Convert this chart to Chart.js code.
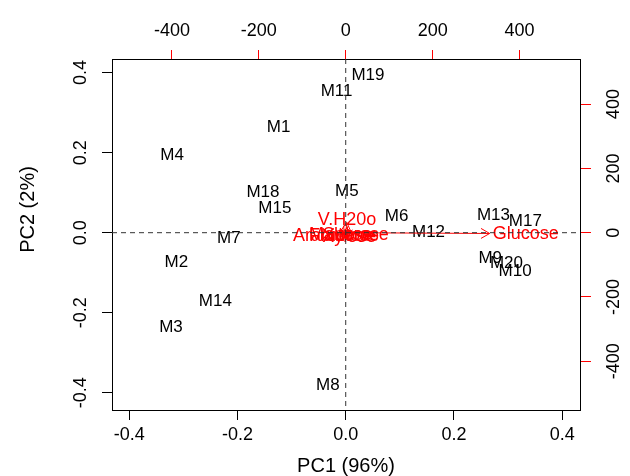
<!DOCTYPE html>
<html>
<head>
<meta charset="utf-8">
<script src="https://cdn.jsdelivr.net/npm/chart.js@4.4.0/dist/chart.umd.min.js"></script>
<style>
  html, body { margin: 0; padding: 0; background: #fff; }
</style>
</head>
<body>
<canvas id="biplot" width="630" height="476"></canvas>
<script>
// sample scores (PC1, PC2)
const sampleNames = ['M1', 'M2', 'M3', 'M4', 'M5', 'M6', 'M7', 'M8', 'M9', 'M10',
                     'M11', 'M12', 'M13', 'M14', 'M15', 'M17', 'M18', 'M19', 'M20'];
const pc1 = [-0.124, -0.313, -0.323, -0.321, 0.002, 0.094, -0.216, -0.033, 0.267, 0.313,
             -0.017, 0.153, 0.273, -0.241, -0.131, 0.332, -0.153, 0.041, 0.297];
const pc2 = [0.264, -0.073, -0.236, 0.194, 0.104, 0.042, -0.013, -0.381, -0.063, -0.096,
             0.354, 0.002, 0.044, -0.171, 0.062, 0.028, 0.102, 0.393, -0.076];

// variable loadings (top / right axes)
const varNames = ['Glucose', 'V.H20o', 'Arabinose', 'Sucrose', 'Fructose', 'Maltose', 'Xylose'];
const load1 = [414, 3, -28, 23, -4, -12, 8];
const load2 = [-3, 40, -9, -8, -11, -6, -14];

const scoreTicks = [-0.4, -0.2, 0, 0.2, 0.4];
const loadTicks = [-400, -200, 0, 200, 400];

const xRange = [-0.432, 0.433];
const yRange = [-0.443, 0.434];
const loadScale = 1245;   // ratio between loading axes and score axes

const FONT = 'Liberation Sans, Arial, sans-serif';

const biplotLabels = {
  id: 'biplotLabels',
  afterDatasetsDraw(chart) {
    const ctx = chart.ctx;
    const area = chart.chartArea;
    const s = chart.scales;
    ctx.save();
    ctx.beginPath();
    ctx.rect(area.left, area.top, area.right - area.left, area.bottom - area.top);
    ctx.clip();

    // sample names
    ctx.font = '17px ' + FONT;
    ctx.textAlign = 'center';
    ctx.textBaseline = 'middle';
    ctx.fillStyle = '#000';
    chart.getDatasetMeta(0).data.forEach((pt, i) => {
      ctx.fillText(sampleNames[i], pt.x, pt.y);
    });

    // arrows at 0.8 of the loading
    const ox = s.x2.getPixelForValue(0);
    const oy = s.y2.getPixelForValue(0);
    ctx.strokeStyle = 'red';
    ctx.lineWidth = 1;
    load1.forEach((v, i) => {
      const tx = s.x2.getPixelForValue(v * 0.8);
      const ty = s.y2.getPixelForValue(load2[i] * 0.8);
      ctx.beginPath();
      ctx.moveTo(ox, oy);
      ctx.lineTo(tx, ty);
      const a = Math.atan2(ty - oy, tx - ox);
      const len = 10;
      ctx.moveTo(tx - len * Math.cos(a - Math.PI / 6), ty - len * Math.sin(a - Math.PI / 6));
      ctx.lineTo(tx, ty);
      ctx.lineTo(tx - len * Math.cos(a + Math.PI / 6), ty - len * Math.sin(a + Math.PI / 6));
      ctx.stroke();
    });

    // variable names
    ctx.font = '18px ' + FONT;
    ctx.fillStyle = 'red';
    chart.getDatasetMeta(1).data.forEach((pt, i) => {
      ctx.fillText(varNames[i], pt.x, pt.y);
    });

    // dashed lines through the origin
    const x0 = s.x.getPixelForValue(0);
    const y0 = s.y.getPixelForValue(0);
    ctx.strokeStyle = '#333';
    ctx.setLineDash([5, 4]);
    ctx.beginPath();
    ctx.moveTo(x0, area.top);
    ctx.lineTo(x0, area.bottom);
    ctx.moveTo(area.left, y0);
    ctx.lineTo(area.right, y0);
    ctx.stroke();
    ctx.restore();
  }
};

const tickFont = { family: FONT, size: 18 };
const fixedTicks = list => axis => { axis.ticks = list.map(v => ({ value: v })); };

new Chart('biplot', {
  type: 'scatter',
  data: {
    datasets: [
      {
        data: pc1.map((v, i) => ({ x: v, y: pc2[i] })),
        xAxisID: 'x', yAxisID: 'y', pointRadius: 0
      },
      {
        data: load1.map((v, i) => ({ x: v, y: load2[i] })),
        xAxisID: 'x2', yAxisID: 'y2', pointRadius: 0
      }
    ]
  },
  options: {
    responsive: false,
    animation: false,
    devicePixelRatio: 1,
    layout: { padding: 0 },
    plugins: { legend: { display: false }, tooltip: { enabled: false } },
    scales: {
      x: {
        type: 'linear', position: 'bottom', min: xRange[0], max: xRange[1],
        afterBuildTicks: fixedTicks(scoreTicks),
        afterFit: sc => { sc.height = 66; },
        grid: { drawOnChartArea: false, tickLength: 10, color: '#000' },
        border: { color: '#000' },
        ticks: { font: tickFont, color: '#000', padding: 4, maxRotation: 0,
                 callback: v => v.toFixed(1) },
        title: { display: true, text: 'PC1 (96%)', color: '#000',
                 font: { family: FONT, size: 20, lineHeight: 1 }, padding: 0 }
      },
      y: {
        type: 'linear', position: 'left', min: yRange[0], max: yRange[1],
        afterBuildTicks: fixedTicks(scoreTicks),
        afterFit: sc => { sc.width = 112; },
        grid: { drawOnChartArea: false, tickLength: 10, color: '#000' },
        border: { color: '#000' },
        ticks: { font: tickFont, color: '#000', padding: 5, minRotation: 90, maxRotation: 90,
                 crossAlign: 'center', callback: v => v.toFixed(1) },
        title: { display: true, text: '         PC2 (2%)', color: '#000',
                 font: { family: FONT, size: 20, lineHeight: 1 }, padding: { top: 18 } }
      },
      x2: {
        type: 'linear', position: 'top', min: xRange[0] * loadScale, max: xRange[1] * loadScale,
        afterBuildTicks: fixedTicks(loadTicks),
        afterFit: sc => { sc.height = 59; },
        grid: { drawOnChartArea: false, tickLength: 9, color: 'red' },
        border: { color: '#000' },
        ticks: { font: tickFont, color: '#000', padding: 8, maxRotation: 0 }
      },
      y2: {
        type: 'linear', position: 'right', min: yRange[0] * loadScale, max: yRange[1] * loadScale,
        afterBuildTicks: fixedTicks(loadTicks),
        afterFit: sc => { sc.width = 50; },
        grid: { drawOnChartArea: false, tickLength: 11, color: 'red' },
        border: { color: '#000' },
        ticks: { font: tickFont, color: '#000', padding: 5, minRotation: 90, maxRotation: 90,
                 crossAlign: 'center' }
      }
    }
  },
  plugins: [biplotLabels]
});
</script>
</body>
</html>
